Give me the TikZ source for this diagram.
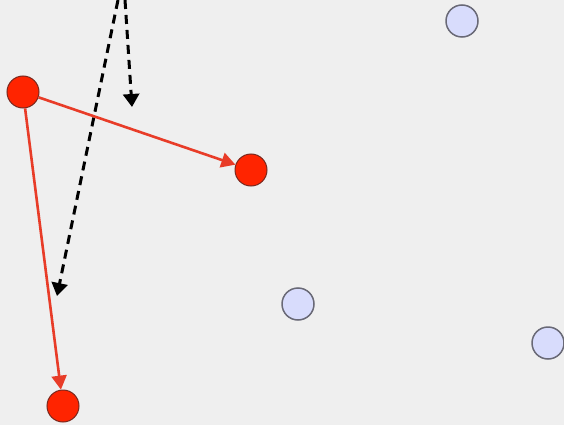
\documentclass[tikz,border=0pt]{standalone}
\usepackage{tikz}
\usetikzlibrary{arrows.meta,positioning}
\definecolor{bgcolor}{RGB}{239,239,239}
\definecolor{hotcolor}{RGB}{255,36,0}
\definecolor{hotedge}{RGB}{120,40,30}
\definecolor{linkcolor}{RGB}{232,60,40}
\definecolor{coldcolor}{RGB}{216,220,252}
\definecolor{coldedge}{RGB}{105,105,118}

\begin{document}
\begin{tikzpicture}[x=1pt, y=-1pt,
    hotdot/.style={circle, draw=hotedge, fill=hotcolor, line width=1pt, minimum size=32pt, inner sep=0pt},
    colddot/.style={circle, draw=coldedge, fill=coldcolor, line width=1.5pt, minimum size=32pt, inner sep=0pt},
    link/.style={linkcolor, line width=2.6pt, -{Triangle[length=14pt, width=15pt]}},
    trail/.style={black, line width=3pt, dash pattern=on 9pt off 6pt, -{Triangle[length=13pt, width=16pt]}}]
    \fill[bgcolor] (0,0) rectangle (564,425);
    \useasboundingbox (0,0) rectangle (564,425);
    % start points off the top edge
    \coordinate (topa) at (118,0);
    \coordinate (topb) at (125,0);
    \coordinate (enda) at (57,296);
    \coordinate (endb) at (132,107);
    \draw[trail] (topa) -- (enda);
    \draw[trail] (topb) -- (endb);
    % cold nodes
    \node[colddot] (cold1) at (462,21) {};
    \node[colddot] (cold2) at (298,304) {};
    \node[colddot] (cold3) at (548,343) {};
    % hot nodes
    \node[hotdot] (hot1) at (23,92) {};
    \node[hotdot] (hot2) at (251,170) {};
    \node[hotdot] (hot3) at (63,406) {};
    \draw[link] (hot1) -- (hot2);
    \draw[link] (hot1) -- (hot3);
\end{tikzpicture}
\end{document}
